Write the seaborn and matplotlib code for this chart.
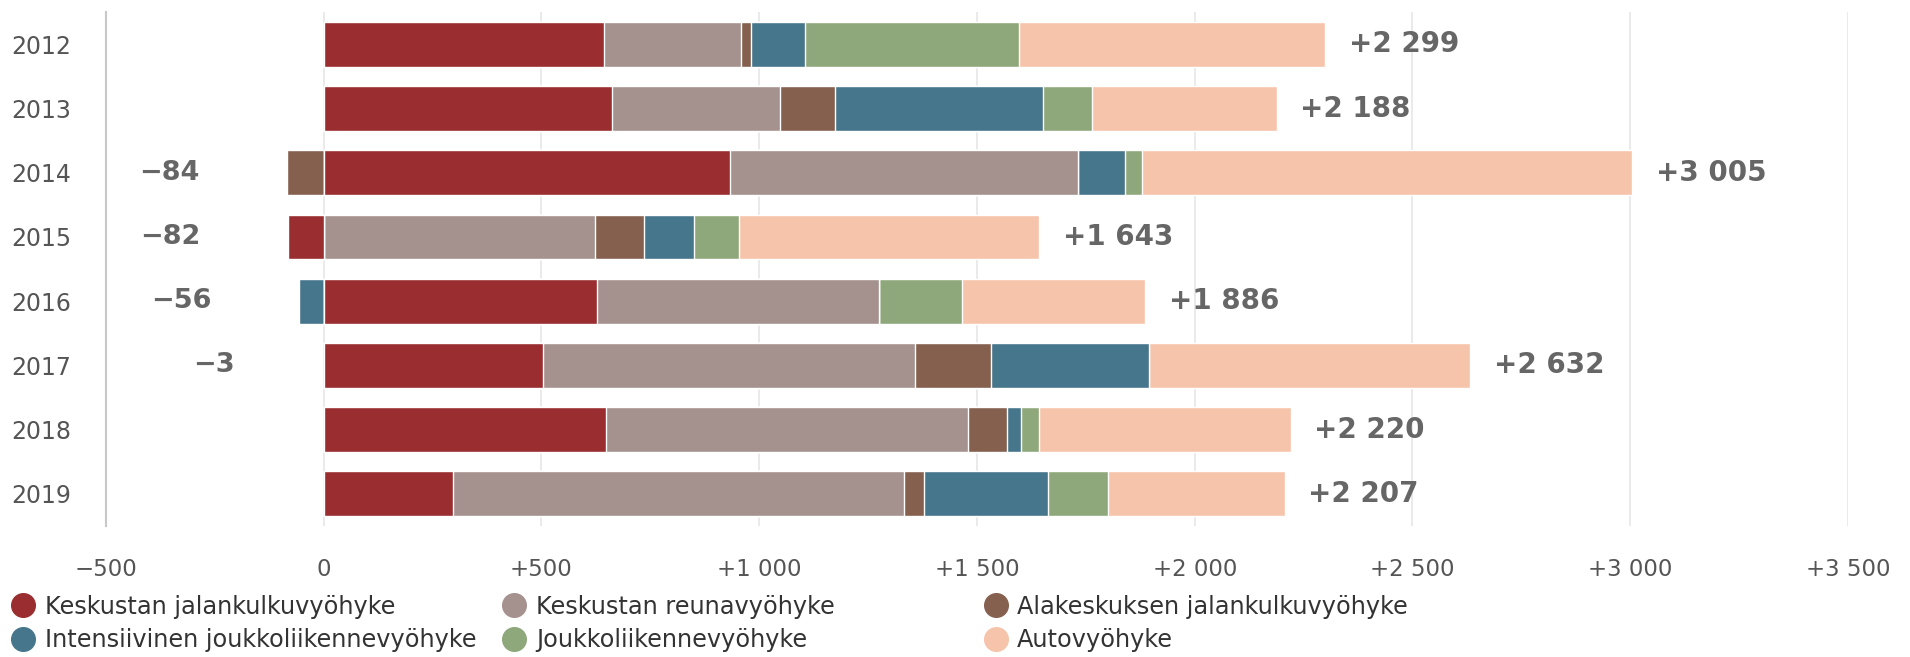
import numpy as np
import pandas as pd
import matplotlib
matplotlib.use("Agg")
import matplotlib.pyplot as plt
from matplotlib.lines import Line2D
from matplotlib.ticker import FuncFormatter, MultipleLocator
import seaborn as sns

# data
years = ["2012", "2013", "2014", "2015", "2016", "2017", "2018", "2019"]
series = ["Keskustan jalankulkuvyöhyke", "Keskustan reunavyöhyke",
          "Alakeskuksen jalankulkuvyöhyke", "Intensiivinen joukkoliikennevyöhyke",
          "Joukkoliikennevyöhyke", "Autovyöhyke"]
keskusta_jalankulku = [644, 662, 932, -82, 627, 504, 648, 297]
keskusta_reuna = [315, 385, 801, 623, 647, 853, 832, 1036]
alakeskus = [21, 128, -84, 113, 0, 175, 89, 45]
intensiivinen = [124, 477, 106, 114, -56, 363, 32, 284]
joukkoliikenne = [492, 112, 41, 104, 191, 0, 41, 140]
auto = [703, 424, 1125, 689, 421, 737, 578, 405]
auto_neg_2017 = -3  # hardly visible sliver left of zero
colors = ["#9A2D2F", "#A5928E", "#86604F", "#46768B", "#8EA87B", "#F6C4AB"]

values = np.array([keskusta_jalankulku, keskusta_reuna, alakeskus,
                   intensiivinen, joukkoliikenne, auto], dtype=float)
neg_extra = np.zeros_like(values)
neg_extra[5, years.index("2017")] = auto_neg_2017

pos = np.clip(values, 0, None)
neg = np.clip(values, None, 0) + neg_extra
pos_cum = pos.cumsum(axis=0)
neg_cum = neg.cumsum(axis=0)
pos_total = pos.sum(axis=0)
neg_total = neg.sum(axis=0)

sns.set_style("white")
plt.rcParams["font.family"] = ["DejaVu Sans"]

fig = plt.figure(figsize=(19.10, 6.57), dpi=100)
ax = fig.add_axes([0.0555, 0.1994, 0.912, 0.782])

# stacked bars: draw cumulative layers from the outermost inwards
for k in range(len(series) - 1, -1, -1):
    for cum in (pos_cum[k], neg_cum[k]):
        df = pd.DataFrame({"year": years, "value": cum})
        df = df[df["value"] != 0]
        if df.empty:
            continue
        sns.barplot(data=df, x="value", y="year", order=years, orient="h",
                    color=colors[k], saturation=1, width=0.7, errorbar=None,
                    edgecolor="white", linewidth=1, ax=ax, zorder=3)

def fmt_num(v):
    s = f"{abs(int(round(v))):,}".replace(",", " ")
    if v > 0:
        return "+" + s
    if v < 0:
        return "\u2212" + s
    return "0"

for i in range(len(years)):
    ax.annotate(fmt_num(pos_total[i]), xy=(pos_total[i], i), xytext=(17, 0),
                textcoords="offset points", ha="left", va="center",
                fontsize=20, fontweight="bold", color="#666666")
    if neg_total[i] < 0:
        ax.annotate(fmt_num(neg_total[i]), xy=(neg_total[i], i), xytext=(-63, 0),
                    textcoords="offset points", ha="right", va="center",
                    fontsize=19.5, fontweight="bold", color="#666666")

ax.set_xlim(-500, 3500)
ax.xaxis.set_major_locator(MultipleLocator(500))
ax.xaxis.set_major_formatter(FuncFormatter(lambda v, p: fmt_num(v)))
ax.grid(axis="x", color="#e6e6e6", linewidth=1.2, zorder=0)
ax.set_axisbelow(True)
ax.set_xlabel("")
ax.set_ylabel("")
for side in ["top", "right", "bottom"]:
    ax.spines[side].set_visible(False)
ax.spines["left"].set_color("#c8c8c8")
ax.spines["left"].set_linewidth(1.5)
ax.tick_params(axis="y", length=0, pad=25, labelsize=17, labelcolor="#555555")
ax.tick_params(axis="x", length=0, pad=23, labelsize=16.5, labelcolor="#555555")

# legend in three columns of two entries
def handle(c):
    return Line2D([], [], marker="o", linestyle="none", markersize=17,
                  markerfacecolor=c, markeredgecolor=c)

cols = [(0, 3, 0.0058), (1, 4, 0.263), (2, 5, 0.515)]
for a, b, x0 in cols:
    fig.legend([handle(colors[a]), handle(colors[b])], [series[a], series[b]],
               loc="upper left", bbox_to_anchor=(x0, 0.095), frameon=False,
               fontsize=17.3, handlelength=1, handletextpad=0.4, labelspacing=0.4,
               borderpad=0, borderaxespad=0, labelcolor="#333333")

fig.savefig("out.png", dpi=100)
